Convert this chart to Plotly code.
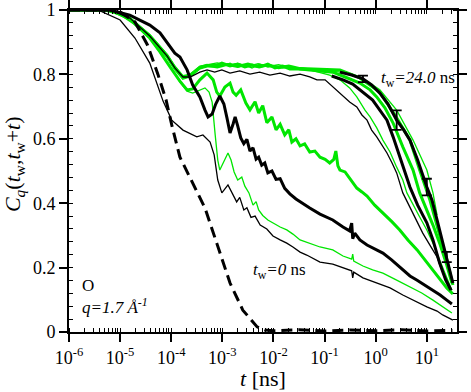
import plotly.graph_objects as go

# ── Colours / fonts ─────────────────────────────────────────────────────────
GREEN = "#00e600"
BLACK = "#000000"
FONT = "Liberation Serif"

# ── Axis ticks ──────────────────────────────────────────────────────────────
X_TICKS = [1e-6, 1e-5, 1e-4, 1e-3, 1e-2, 1e-1, 1e0, 1e1]
X_TICK_TEXT = ["10<sup>-6</sup>", "10<sup>-5</sup>", "10<sup>-4</sup>", "10<sup>-3</sup>",
               "10<sup>-2</sup>", "10<sup>-1</sup>", "10<sup>0</sup>", "10<sup>1</sup>"]
Y_TICKS = [0, 0.2, 0.4, 0.6, 0.8, 1]
Y_TICK_TEXT = ["0", "0.2", "0.4", "0.6", "0.8", "1"]

# ── Data: log10(t / ns) and C_q values ──────────────────────────────────────
# dashed reference curve
LOG_T_DASH = [-6.0, -5.2, -5.0, -4.71, -4.46, -4.26, -4.10, -3.99, -3.83, -3.58, -3.34, -3.11,
              -2.85, -2.60, -2.32, -2.17, -2.0, -1.5, -1.0, -0.5, 0.0, 0.5, 1.0, 1.5]
C_DASH = [1.0, 1.0, 0.994, 0.963, 0.89, 0.80, 0.72, 0.643, 0.543, 0.463, 0.385, 0.276,
          0.152, 0.068, 0.016, 0.006, 0.004, 0.007, 0.003, 0.006, 0.004, 0.007, 0.003, 0.005]

# t_w = 0, thin black
LOG_T_A = [-6.0, -5.39, -5.0, -4.71, -4.42, -4.16, -3.99, -3.77, -3.50, -3.38, -3.24, -3.16,
           -3.09, -3.01, -2.89, -2.79, -2.72, -2.66, -2.58, -2.52, -2.44, -2.36, -2.26, -2.13,
           -2.01, -1.87, -1.74, -1.62, -1.48, -1.35, -1.09, -0.84, -0.64, -0.47, -0.45, -0.43,
           -0.25, 0.02, 0.28, 0.53, 0.81, 1.0, 1.20, 1.31, 1.51]
C_A = [1.0, 0.997, 0.969, 0.913, 0.835, 0.717, 0.658, 0.627, 0.606, 0.612, 0.59, 0.55,
       0.472, 0.432, 0.457, 0.426, 0.404, 0.418, 0.379, 0.386, 0.356, 0.36, 0.332, 0.32,
       0.298, 0.286, 0.276, 0.264, 0.248, 0.239, 0.217, 0.211, 0.199, 0.19, 0.168, 0.186,
       0.168, 0.152, 0.137, 0.115, 0.093, 0.078, 0.065, 0.053, 0.037]

# t_w = 0, thin green
LOG_T_B = [-6.0, -5.30, -5.0, -4.71, -4.42, -4.22, -3.99, -3.83, -3.69, -3.58, -3.44, -3.34,
           -3.26, -3.20, -3.14, -3.09, -3.05, -2.97, -2.89, -2.83, -2.77, -2.70, -2.62, -2.56,
           -2.48, -2.40, -2.34, -2.29, -2.21, -2.11, -2.01, -1.87, -1.74, -1.62, -1.48, -1.29,
           -1.09, -0.84, -0.64, -0.47, -0.45, -0.43, -0.25, -0.06, 0.14, 0.41, 0.67, 0.90,
           1.12, 1.31, 1.49]
C_B = [1.0, 1.0, 0.988, 0.957, 0.913, 0.87, 0.817, 0.776, 0.748, 0.742, 0.752, 0.758,
       0.745, 0.714, 0.612, 0.534, 0.503, 0.528, 0.556, 0.534, 0.497, 0.472, 0.481, 0.453,
       0.432, 0.394, 0.405, 0.379, 0.362, 0.348, 0.338, 0.326, 0.317, 0.304, 0.286, 0.276,
       0.264, 0.255, 0.236, 0.226, 0.242, 0.22, 0.205, 0.193, 0.183, 0.161, 0.14, 0.121,
       0.099, 0.078, 0.059]

# thick black (oscillating)
LOG_T_C = [-6.0, -5.20, -4.81, -4.42, -4.22, -4.08, -3.93, -3.83, -3.69, -3.58, -3.44, -3.34,
           -3.28, -3.20, -3.13, -3.05, -2.97, -2.91, -2.85, -2.79, -2.75, -2.70, -2.64, -2.58,
           -2.52, -2.46, -2.40, -2.34, -2.29, -2.23, -2.17, -2.11, -2.03, -1.95, -1.87, -1.78,
           -1.68, -1.56, -1.48, -1.29, -1.09, -0.84, -0.64, -0.51, -0.47, -0.45, -0.41, -0.31,
           -0.17, -0.02, 0.14, 0.31, 0.47, 0.67, 0.81, 0.96, 1.12, 1.26, 1.39, 1.49]
C_C = [1.0, 1.0, 0.984, 0.953, 0.929, 0.90, 0.866, 0.854, 0.814, 0.767, 0.73, 0.689,
       0.668, 0.677, 0.708, 0.733, 0.708, 0.665, 0.618, 0.646, 0.668, 0.64, 0.603, 0.585,
       0.598, 0.562, 0.572, 0.537, 0.543, 0.518, 0.525, 0.494, 0.5, 0.474, 0.476, 0.446,
       0.429, 0.413, 0.404, 0.385, 0.366, 0.348, 0.326, 0.314, 0.338, 0.29, 0.307, 0.286,
       0.270, 0.258, 0.245, 0.224, 0.202, 0.174, 0.161, 0.146, 0.13, 0.115, 0.099, 0.087]

# thick green (oscillating)
LOG_T_D = [-6.0, -5.30, -5.0, -4.71, -4.42, -4.22, -4.01, -3.83, -3.69, -3.58, -3.44, -3.30,
           -3.18, -3.11, -3.05, -2.95, -2.85, -2.79, -2.73, -2.64, -2.54, -2.46, -2.36, -2.29,
           -2.21, -2.13, -2.03, -1.95, -1.87, -1.78, -1.70, -1.64, -1.56, -1.48, -1.39, -1.29,
           -1.19, -1.09, -0.99, -0.90, -0.82, -0.78, -0.74, -0.70, -0.60, -0.51, -0.37, -0.27,
           -0.17, -0.02, 0.14, 0.32, 0.47, 0.63, 0.81, 0.96, 1.12, 1.26, 1.39, 1.51]
C_D = [1.0, 1.0, 0.988, 0.957, 0.913, 0.87, 0.82, 0.779, 0.752, 0.755, 0.783, 0.804,
       0.783, 0.745, 0.733, 0.761, 0.773, 0.745, 0.735, 0.752, 0.711, 0.69, 0.715, 0.68,
       0.703, 0.65, 0.668, 0.628, 0.645, 0.612, 0.628, 0.59, 0.6, 0.578, 0.584, 0.559,
       0.562, 0.543, 0.536, 0.525, 0.536, 0.562, 0.516, 0.503, 0.497, 0.478, 0.447, 0.435,
       0.422, 0.394, 0.37, 0.342, 0.317, 0.286, 0.255, 0.224, 0.193, 0.161, 0.137, 0.118]

# plateau group (t_w = 24 ns side)
LOG_T_E1 = [-6.0, -5.2, -4.81, -4.42, -4.08, -3.93, -3.77, -3.63, -3.44, -3.30, -3.15, -3.01,
            -2.85, -2.66, -2.46, -2.27, -2.07, -1.87, -1.68, -1.48, -1.29, -1.15, -0.99, -0.84,
            -0.74, -0.64, -0.51, -0.37, -0.27, -0.17, -0.08, 0.02, 0.12, 0.22, 0.32, 0.41,
            0.53, 0.63, 0.73, 0.82, 0.92, 1.06, 1.20, 1.29, 1.39, 1.49]
C_E1 = [1.0, 1.0, 0.975, 0.919, 0.857, 0.82, 0.792, 0.792, 0.807, 0.814, 0.807, 0.814,
        0.804, 0.811, 0.801, 0.807, 0.798, 0.804, 0.795, 0.801, 0.792, 0.783, 0.783, 0.761,
        0.745, 0.73, 0.714, 0.699, 0.674, 0.658, 0.627, 0.606, 0.581, 0.556, 0.525, 0.494,
        0.432, 0.401, 0.37, 0.339, 0.307, 0.27, 0.233, 0.193, 0.161, 0.13]

LOG_T_E2 = [-6.0, -5.2, -4.81, -4.42, -4.08, -3.93, -3.77, -3.63, -3.44, -3.30, -3.15, -3.01,
            -2.85, -2.70, -2.56, -2.42, -2.27, -2.11, -1.97, -1.82, -1.68, -1.48, -1.29, -1.09,
            -0.90, -0.70, -0.51, -0.37, -0.21, -0.11, 0.02, 0.14, 0.28, 0.41, 0.53, 0.61,
            0.73, 0.86, 1.0, 1.12, 1.25, 1.39, 1.49]
C_E2 = [1.0, 1.0, 0.975, 0.922, 0.86, 0.823, 0.792, 0.798, 0.823, 0.829, 0.832, 0.826,
        0.835, 0.823, 0.829, 0.820, 0.832, 0.823, 0.826, 0.820, 0.823, 0.814, 0.814, 0.807,
        0.798, 0.783, 0.758, 0.73, 0.689, 0.668, 0.634, 0.596, 0.559, 0.512, 0.472, 0.432,
        0.394, 0.357, 0.317, 0.276, 0.224, 0.171, 0.13]

LOG_T_E3 = [-6.0, -5.2, -4.81, -4.42, -4.08, -3.93, -3.77, -3.63, -3.44, -3.30, -3.15, -3.01,
            -2.85, -2.70, -2.56, -2.42, -2.27, -2.11, -1.97, -1.82, -1.68, -1.48, -1.29, -1.09,
            -0.84, -0.60, -0.31, -0.11, 0.02, 0.18, 0.34, 0.53, 0.73, 0.86, 1.0, 1.12,
            1.25, 1.39, 1.49]
C_E3 = [1.0, 1.0, 0.972, 0.916, 0.855, 0.818, 0.788, 0.795, 0.82, 0.826, 0.826, 0.835,
        0.826, 0.832, 0.823, 0.829, 0.823, 0.832, 0.820, 0.826, 0.817, 0.817, 0.814, 0.811,
        0.807, 0.792, 0.773, 0.752, 0.73, 0.696, 0.649, 0.575, 0.503, 0.432, 0.379, 0.332,
        0.276, 0.208, 0.152]

LOG_T_E4 = [-6.0, -5.2, -4.81, -4.42, -4.08, -3.93, -3.77, -3.63, -3.44, -3.30, -3.10, -2.90,
            -2.70, -2.50, -2.30, -2.10, -1.90, -1.70, -1.48, -1.09, -0.70, -0.51, -0.21, 0.08,
            0.41, 0.73, 1.0, 1.12, 1.20]
C_E4 = [1.0, 1.0, 0.976, 0.924, 0.862, 0.826, 0.796, 0.801, 0.826, 0.83, 0.836, 0.828,
        0.834, 0.826, 0.833, 0.825, 0.83, 0.822, 0.82, 0.814, 0.807, 0.804, 0.783, 0.752,
        0.689, 0.596, 0.503, 0.432, 0.363]

LOG_T_E5 = [-6.0, -5.2, -4.81, -4.42, -4.08, -3.93, -3.77, -3.63, -3.44, -3.30, -3.10, -2.90,
            -2.70, -2.50, -2.30, -2.10, -1.90, -1.70, -1.48, -1.09, -0.70, -0.31, 0.08, 0.41,
            0.67, 0.86, 1.06, 1.25, 1.39, 1.51]
C_E5 = [1.0, 1.0, 0.974, 0.92, 0.858, 0.821, 0.79, 0.796, 0.821, 0.828, 0.823, 0.831,
        0.825, 0.832, 0.824, 0.829, 0.821, 0.826, 0.818, 0.816, 0.814, 0.789, 0.745, 0.665,
        0.596, 0.503, 0.41, 0.301, 0.224, 0.146]

# smooth thick black curves, the upper one with error bars
LOG_T_F1 = [-0.70, -0.47, -0.25, -0.08, 0.08, 0.24, 0.41, 0.55, 0.67, 0.82, 1.0, 1.10,
            1.20, 1.29, 1.39, 1.51]
C_F1 = [0.807, 0.798, 0.786, 0.767, 0.742, 0.708, 0.658, 0.627, 0.596, 0.534, 0.45, 0.41,
        0.348, 0.292, 0.233, 0.152]
LOG_T_ERR = [-0.25, 0.41, 1.0, 1.39]
C_ERR = [0.786, 0.658, 0.45, 0.233]
ERR = [0.01, 0.03, 0.026, 0.016]

LOG_T_F2 = [-0.86, -0.64, -0.45, -0.25, -0.06, 0.08, 0.22, 0.34, 0.47, 0.57, 0.67, 0.82,
            1.0, 1.12, 1.25, 1.37, 1.47]
C_F2 = [0.795, 0.783, 0.77, 0.745, 0.72, 0.689, 0.658, 0.606, 0.543, 0.497, 0.45, 0.394,
        0.339, 0.286, 0.214, 0.161, 0.13]


def to_t(logs):
    return [10 ** v for v in logs]


def line(logs, vals, color, width, dash="solid"):
    return go.Scatter(x=to_t(logs), y=vals, mode="lines", showlegend=False,
                      line=dict(color=color, width=width, dash=dash))


fig = go.Figure()

# greens underneath
fig.add_trace(line(LOG_T_E2, C_E2, GREEN, 1.3))
fig.add_trace(line(LOG_T_E4, C_E4, GREEN, 1.3))
fig.add_trace(line(LOG_T_E3, C_E3, GREEN, 3))
fig.add_trace(line(LOG_T_E5, C_E5, GREEN, 3))
fig.add_trace(line(LOG_T_B, C_B, GREEN, 1.3))
fig.add_trace(line(LOG_T_D, C_D, GREEN, 3))

# blacks on top
fig.add_trace(line(LOG_T_E1, C_E1, BLACK, 1.3))
fig.add_trace(line(LOG_T_A, C_A, BLACK, 1.3))
fig.add_trace(line(LOG_T_C, C_C, BLACK, 3))
fig.add_trace(line(LOG_T_F2, C_F2, BLACK, 3))
fig.add_trace(line(LOG_T_F1, C_F1, BLACK, 3))
fig.add_trace(go.Scatter(
    x=to_t(LOG_T_ERR), y=C_ERR, mode="markers", showlegend=False,
    marker=dict(size=1, color=BLACK),
    error_y=dict(type="data", array=ERR, color=BLACK, thickness=1.8, width=5),
))
fig.add_trace(line(LOG_T_DASH, C_DASH, BLACK, 3, dash="11px,6px"))

txt = dict(family=FONT, size=17, color=BLACK)
annots = [
    dict(x=0.028, y=0.145, text="O"),
    dict(x=0.028, y=0.08, text="<i>q=1.7 Å<sup>-1</sup></i>"),
    dict(x=0.800, y=0.787, text="<i>t</i><sub>w</sub><i>=24.0</i> ns"),
    dict(x=0.470, y=0.19, text="<i>t</i><sub>w</sub><i>=0</i> ns"),
]
for a in annots:
    fig.add_annotation(xref="paper", yref="paper", xanchor="left", yanchor="middle",
                       showarrow=False, font=txt, **a)

# axis titles
fig.add_annotation(xref="paper", yref="paper", x=0.5, y=-0.145, xanchor="center",
                   yanchor="middle", showarrow=False, text="<i>t</i> [ns]",
                   font=dict(family=FONT, size=22, color=BLACK))
fig.add_annotation(xref="paper", yref="paper", x=-0.143, y=0.52, xanchor="center",
                   yanchor="middle", showarrow=False, textangle=-90,
                   text="<i>C<sub>q</sub></i>(<i>t</i><sub>w</sub>,<i>t</i><sub>w</sub>+<i>t</i>)",
                   font=dict(family=FONT, size=22, color=BLACK))

axis_common = dict(
    showline=True, linecolor=BLACK, linewidth=2, mirror="ticks",
    ticks="outside", ticklen=8, tickwidth=1.5, tickcolor=BLACK,
    showgrid=False, zeroline=False, automargin=False, ticklabeloverflow="allow",
    tickfont=dict(family=FONT, size=18, color=BLACK),
)

fig.update_layout(
    width=471, height=392,
    margin=dict(l=69, r=14, t=10, b=60),
    paper_bgcolor="white", plot_bgcolor="white",
    font=dict(family=FONT, color=BLACK),
    xaxis=dict(type="log", range=[-6, 1.59], tickmode="array",
               tickvals=X_TICKS, ticktext=X_TICK_TEXT,
               minor=dict(ticks="inside", ticklen=4, tickwidth=1, tickcolor=BLACK,
                          dtick="D1", showgrid=False),
               **axis_common),
    yaxis=dict(range=[0, 1], tickmode="array", tickvals=Y_TICKS, ticktext=Y_TICK_TEXT,
               minor=dict(ticks="inside", ticklen=4, tickwidth=1, tickcolor=BLACK,
                          dtick=0.04, showgrid=False),
               **axis_common),
)

# drop the browser's default 8 px body margin so the figure fills the window
fig.write_html("out.html", config={"displayModeBar": False},
               post_script="document.body.style.margin='0px';")
